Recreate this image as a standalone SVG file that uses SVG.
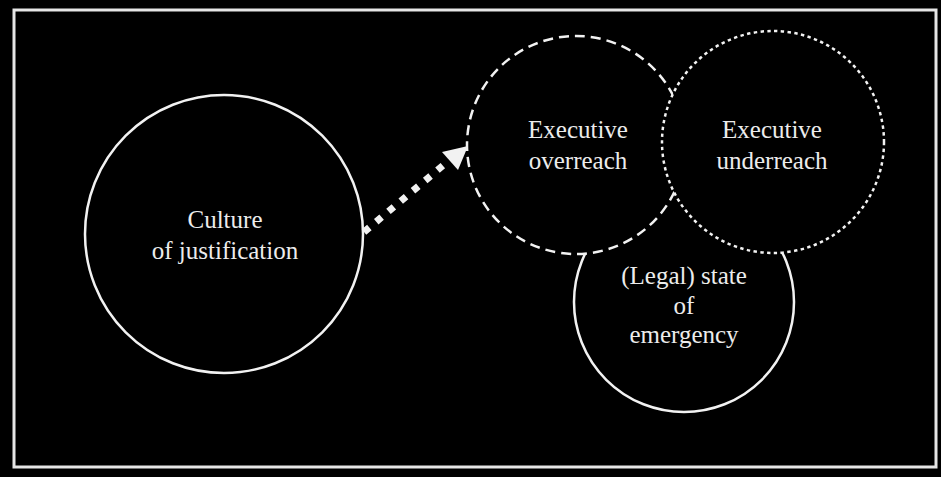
<svg xmlns="http://www.w3.org/2000/svg" width="941" height="477" viewBox="0 0 941 477">
<defs>
<style>
text{font-family:'Liberation Serif',serif;font-size:25px;fill:#ececec;text-anchor:middle}
.c{fill:#000;stroke:#f2f2f2;stroke-width:2.5}
</style>
</defs>
<rect x="0" y="0" width="941" height="477" fill="#000"/>
<rect x="14" y="10" width="922" height="457" fill="none" stroke="#e6e6e6" stroke-width="3"/>
<g id="legal">
<circle class="c" cx="684" cy="302" r="110"/>
<text x="684" y="284">(Legal) state</text>
<text x="684" y="314">of</text>
<text x="684" y="343">emergency</text>
</g>
<g id="overreach">
<circle class="c" cx="576" cy="145" r="109" stroke-width="3" stroke-dasharray="10 6"/>
<text x="578" y="138">Executive</text>
<text x="578" y="169">overreach</text>
</g>
<g id="underreach">
<circle class="c" cx="773" cy="142" r="111" stroke-width="3.5" stroke-dasharray="3.4 3.4"/>
<text x="772" y="138">Executive</text>
<text x="772" y="169">underreach</text>
</g>
<g id="culture">
<circle class="c" cx="224" cy="234" r="139"/>
<text x="225" y="228">Culture</text>
<text x="225" y="259">of justification</text>
</g>
<g id="connectors">
<line x1="364" y1="232" x2="446" y2="163" stroke="#f2f2f2" stroke-width="7" stroke-dasharray="7 9"/>
<polygon points="442,152 468,146 458,170" fill="#f2f2f2"/>
</g>
</svg>
